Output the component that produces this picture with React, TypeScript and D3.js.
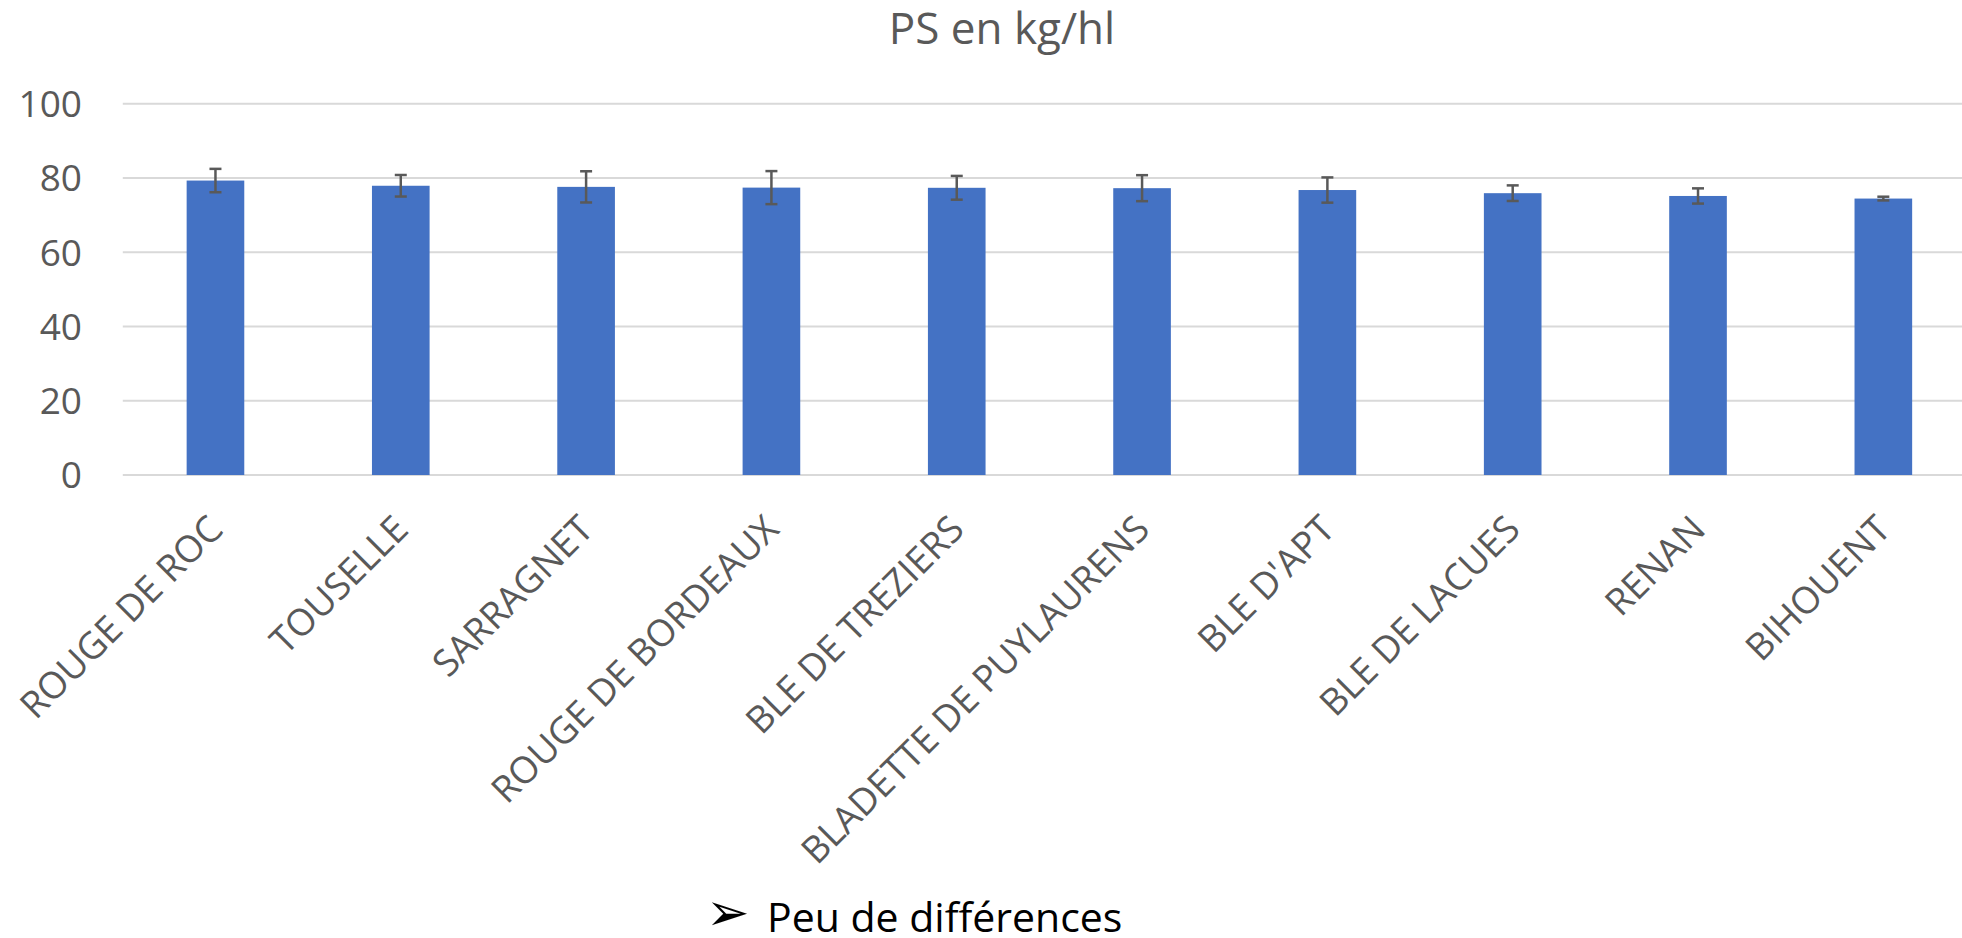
import React from "react";
import * as d3 from "d3";

const categories = [
  "ROUGE DE ROC",
  "TOUSELLE",
  "SARRAGNET",
  "ROUGE DE BORDEAUX",
  "BLE DE TREZIERS",
  "BLADETTE DE PUYLAURENS",
  "BLE D'APT",
  "BLE DE LACUES",
  "RENAN",
  "BIHOUENT",
];
const values = [79.3, 77.9, 77.6, 77.4, 77.35, 77.25, 76.75, 75.9, 75.15, 74.45];
const errors = [3.15, 2.9, 4.2, 4.45, 3.2, 3.5, 3.4, 2.1, 2.05, 0.5];
const yTicks = [0, 20, 40, 60, 80, 100];
const title = "PS en kg/hl";
const footnote = "Peu de différences";

const W = 1962;
const H = 938;
const FONT = "'Open Sans', sans-serif";

export default function App() {
  const x = d3
    .scaleBand<string>()
    .domain(categories)
    .range([122.8, 1976])
    .paddingInner(0.689)
    .paddingOuter(0.3445);
  const y = d3.scaleLinear().domain([0, 100]).range([475, 103.7]);
  const cap = 6;

  return (
    <svg
      width={W}
      height={H}
      style={{ position: "absolute", left: 0, top: 0, background: "#fff" }}
    >
      <text
        x={1002}
        y={44}
        textAnchor="middle"
        fontFamily={FONT}
        fontSize={44}
        fill="#595959"
      >
        {title}
      </text>
      {yTicks.map((t) => (
        <g key={t}>
          <line x1={122.8} x2={1976} y1={y(t)} y2={y(t)} stroke="#d9d9d9" strokeWidth={2} />
          <text
            x={82}
            y={y(t)}
            dy="0.36em"
            textAnchor="end"
            fontFamily={FONT}
            fontSize={37}
            fill="#595959"
          >
            {t}
          </text>
        </g>
      ))}
      {categories.map((c, i) => {
        const bx = x(c)!;
        const cx = bx + x.bandwidth() / 2;
        const v = values[i];
        const e = errors[i];
        return (
          <g key={c}>
            <rect x={bx} y={y(v)} width={x.bandwidth()} height={y(0) - y(v)} fill="#4472C4" />
            <g stroke="#595959" strokeWidth={2.5}>
              <line x1={cx} x2={cx} y1={y(v + e)} y2={y(v - e)} />
              <line x1={cx - cap} x2={cx + cap} y1={y(v + e)} y2={y(v + e)} />
              <line x1={cx - cap} x2={cx + cap} y1={y(v - e)} y2={y(v - e)} />
            </g>
            <text
              transform={`translate(${cx},${522}) rotate(-45)`}
              dy="0.36em"
              textAnchor="end"
              fontFamily={FONT}
              fontSize={37}
              fill="#595959"
            >
              {c}
            </text>
          </g>
        );
      })}
      <text x={706} y={930} fontFamily="'DejaVu Sans', sans-serif" fontSize={52} fill="#000">
        ➢
      </text>
      <text x={767} y={932} fontFamily={FONT} fontSize={41} fill="#000">
        {footnote}
      </text>
    </svg>
  );
}
